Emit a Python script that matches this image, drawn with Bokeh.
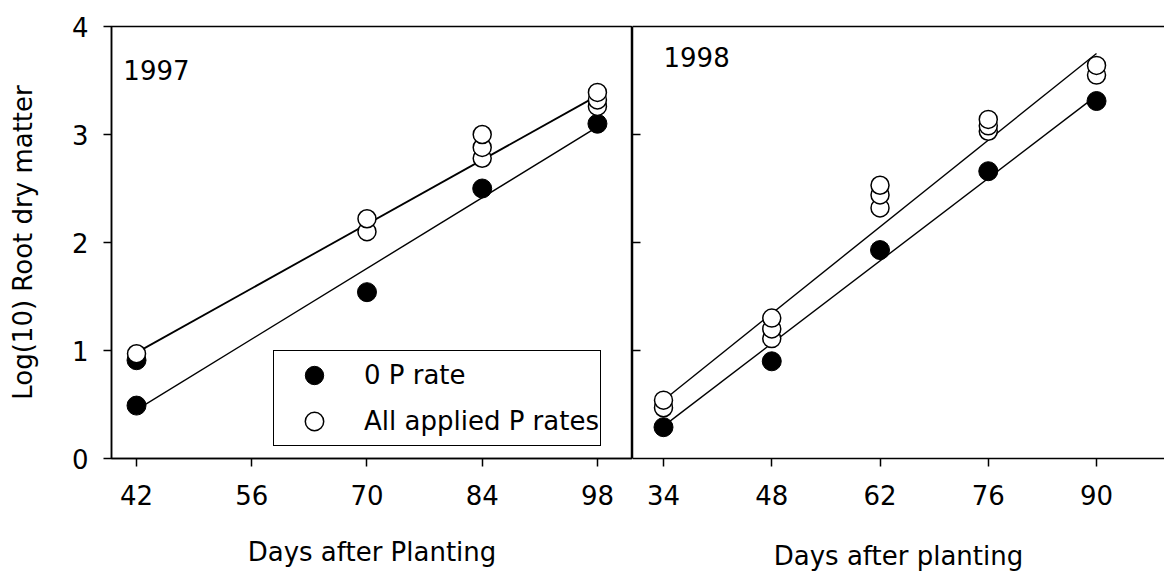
from bokeh.plotting import figure
from bokeh.layouts import row
from bokeh.models import (Range1d, FixedTicker, LinearAxis, Label, Legend,
                          LegendItem, CustomJSTickFormatter)
from bokeh.embed import file_html
from bokeh.resources import INLINE

# ---------------- data ----------------
days_1997_zero = [42, 42, 70, 84, 98]
root_1997_zero = [0.49, 0.91, 1.54, 2.50, 3.10]
days_1997_applied = [42, 70, 70, 84, 84, 84, 98, 98, 98]
root_1997_applied = [0.97, 2.10, 2.22, 2.78, 2.88, 3.00, 3.26, 3.32, 3.39]
fit_days_1997 = [42, 98]
fit_1997_zero = [0.45, 3.07]
fit_1997_applied = [0.98, 3.36]

days_1998_zero = [34, 48, 62, 76, 90]
root_1998_zero = [0.29, 0.90, 1.93, 2.66, 3.31]
days_1998_applied = [34, 34, 48, 48, 48, 62, 62, 62, 76, 76, 76, 90, 90]
root_1998_applied = [0.47, 0.54, 1.11, 1.20, 1.30, 2.32, 2.44, 2.53,
                     3.03, 3.08, 3.14, 3.55, 3.64]
fit_days_1998 = [34, 90]
fit_1998_zero = [0.30, 3.36]
fit_1998_applied = [0.54, 3.75]

x_ticks_1997 = [42, 56, 70, 84, 98]
x_ticks_1998 = [34, 48, 62, 76, 90]
y_ticks = [0, 1, 2, 3, 4]
y_ticks_inner = [1, 2, 3]

FONT = "DejaVu Sans"
FS = "26px"
H = 573

def style_axis(ax):
    ax.axis_line_color = "black"
    ax.axis_line_width = 1.5
    ax.major_tick_line_color = "black"
    ax.major_tick_line_width = 1.5
    ax.minor_tick_line_color = None
    ax.major_label_text_font = FONT
    ax.major_label_text_font_size = FS
    ax.major_label_text_color = "black"
    ax.axis_label_text_font = FONT
    ax.axis_label_text_font_size = FS
    ax.axis_label_text_font_style = "normal"
    ax.axis_label_text_color = "black"

# ---------------- left panel (1997) ----------------
p1 = figure(width=632, height=H, output_backend="svg", toolbar_location=None,
            x_range=Range1d(38.96, 102.26), y_range=Range1d(0, 4),
            min_border_left=111, min_border_right=0, min_border_top=26,
            min_border_bottom=113)
p1.xgrid.visible = False
p1.ygrid.visible = False
p1.outline_line_color = "black"
p1.outline_line_alpha = 1.0
p1.outline_line_width = 1.5
p1.background_fill_color = "white"
p1.border_fill_color = "white"

p1.xaxis.ticker = FixedTicker(ticks=x_ticks_1997)
p1.yaxis.ticker = FixedTicker(ticks=y_ticks)
for ax in (p1.xaxis[0], p1.yaxis[0]):
    style_axis(ax)
    ax.major_tick_in = 0
    ax.major_tick_out = 8
p1.xaxis.major_label_standoff = 18
p1.xaxis.axis_label = "Days after Planting"
p1.xaxis.axis_label_standoff = 29
p1.yaxis.major_label_standoff = 15
p1.yaxis.axis_label = "Log(10) Root dry matter"
p1.yaxis.axis_label_standoff = 31

p1.line(fit_days_1997, fit_1997_applied, line_color="black", line_width=1.8)
p1.line(fit_days_1997, fit_1997_zero, line_color="black", line_width=1.4)
r_zero = p1.scatter(days_1997_zero, root_1997_zero, marker="circle", size=19,
                    fill_color="black", line_color="black", line_width=1)
r_app = p1.scatter(days_1997_applied, root_1997_applied, marker="circle", size=18,
                   fill_color="white", line_color="black", line_width=1.5)

p1.add_layout(Label(x=40.4, y=3.6, text="1997", text_font=FONT,
                    text_font_size=FS, text_color="black",
                    text_baseline="alphabetic"))

legend = Legend(items=[LegendItem(label="0 P rate", renderers=[r_zero]),
                       LegendItem(label="All applied P rates", renderers=[r_app])],
                location=(162, 12), margin=0, padding=1, spacing=-4,
                glyph_width=78, glyph_height=46, label_height=30,
                label_standoff=11, label_text_font=FONT, label_text_font_size=FS,
                label_text_color="black", border_line_color="black",
                border_line_alpha=1.0, border_line_width=1.5,
                background_fill_color="white", background_fill_alpha=1.0)
p1.add_layout(legend)

# ---------------- right panel (1998) ----------------
p2 = figure(width=532, height=H, output_backend="svg", toolbar_location=None,
            x_range=Range1d(29.99, 98.79), y_range=Range1d(0, 4),
            min_border_left=0, min_border_right=0, min_border_top=26,
            min_border_bottom=113)
p2.xgrid.visible = False
p2.ygrid.visible = False
p2.outline_line_color = None
p2.background_fill_color = "white"
p2.border_fill_color = "white"

p2.xaxis.ticker = FixedTicker(ticks=x_ticks_1998)
style_axis(p2.xaxis[0])
p2.xaxis.major_tick_in = 0
p2.xaxis.major_tick_out = 8
p2.xaxis.major_label_standoff = 18
p2.xaxis.axis_label = "Days after planting"
p2.xaxis.axis_label_standoff = 33

p2.yaxis.ticker = FixedTicker(ticks=y_ticks_inner)
style_axis(p2.yaxis[0])
p2.yaxis.major_tick_in = 8
p2.yaxis.major_tick_out = 0
p2.yaxis.major_label_standoff = 0
p2.yaxis.formatter = CustomJSTickFormatter(code="return '';")

top_axis = LinearAxis(ticker=FixedTicker(ticks=[]), major_tick_in=0,
                      major_tick_out=0, minor_tick_in=0, minor_tick_out=0,
                      major_label_standoff=0, axis_line_color="black",
                      axis_line_width=1.5)
p2.add_layout(top_axis, "above")

p2.line(fit_days_1998, fit_1998_applied, line_color="black", line_width=1.4)
p2.line(fit_days_1998, fit_1998_zero, line_color="black", line_width=1.4)
p2.scatter(days_1998_zero, root_1998_zero, marker="circle", size=19,
           fill_color="black", line_color="black", line_width=1)
p2.scatter(days_1998_applied, root_1998_applied, marker="circle", size=18,
           fill_color="white", line_color="black", line_width=1.5)

p2.add_layout(Label(x=34.0, y=3.72, text="1998", text_font=FONT,
                    text_font_size=FS, text_color="black",
                    text_baseline="alphabetic"))

layout = row(p1, p2, spacing=0)
open("out.html", "w").write(file_html(layout, INLINE))
